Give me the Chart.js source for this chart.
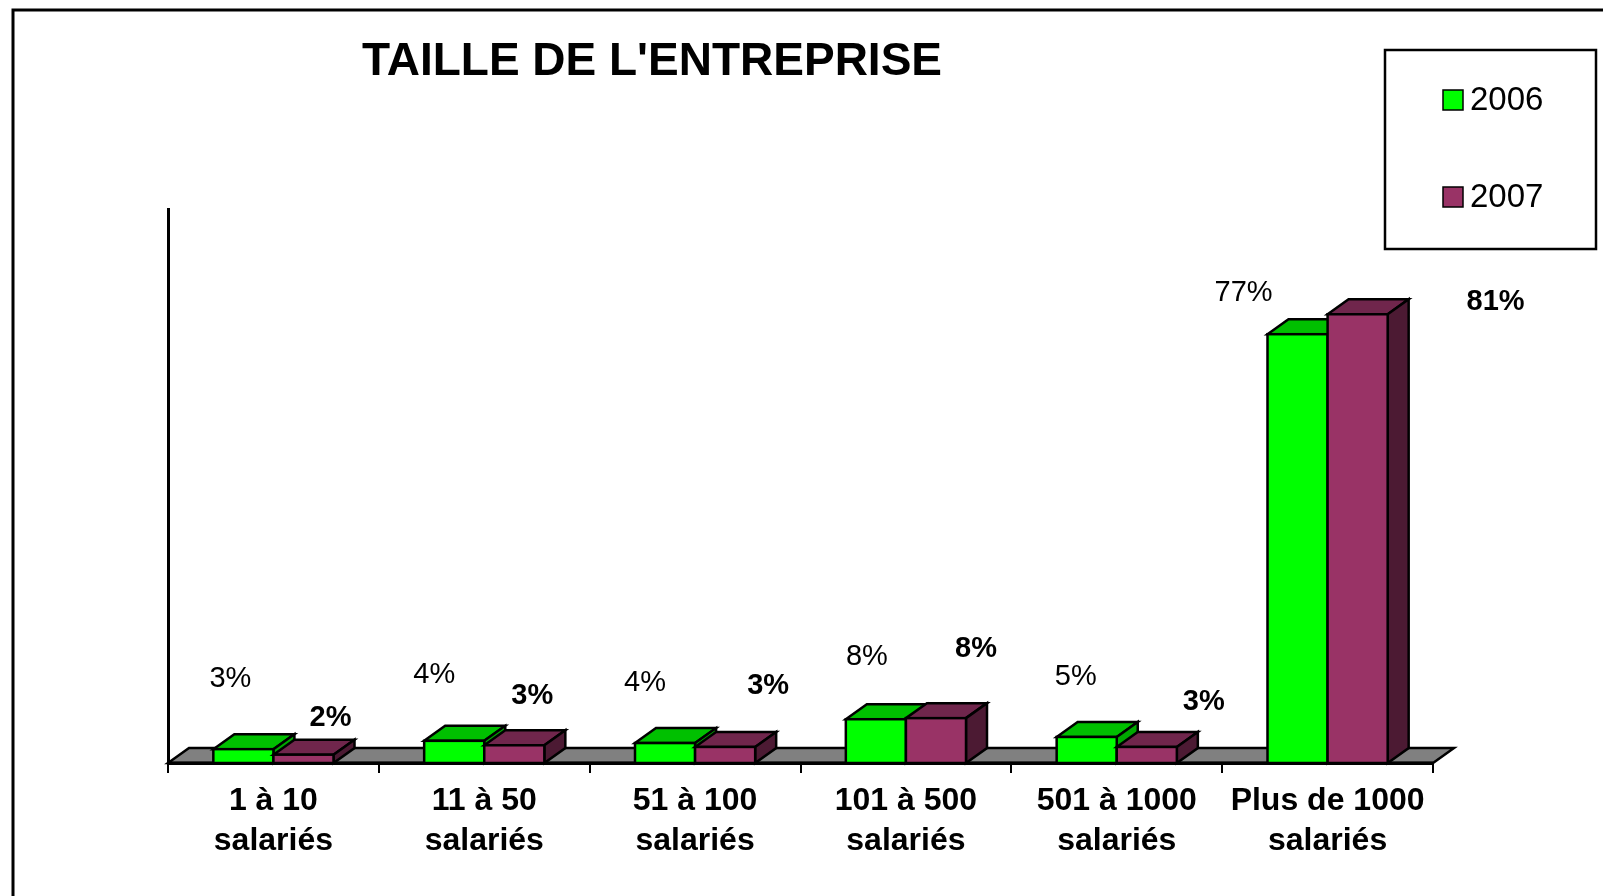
<!DOCTYPE html>
<html lang="fr">
<head>
<meta charset="utf-8">
<title>Taille de l'entreprise</title>
<script src="https://cdn.jsdelivr.net/npm/chart.js@4.4.1/dist/chart.umd.min.js"></script>
<style>
  html, body { margin: 0; padding: 0; background: #fff; }
  canvas { display: block; }
</style>
</head>
<body>
<canvas id="taille-chart" width="1603" height="896"></canvas>
<script>
// categories et valeurs (%)
const categories = [
    ['1 à 10', 'salariés'],
    ['11 à 50', 'salariés'],
    ['51 à 100', 'salariés'],
    ['101 à 500', 'salariés'],
    ['501 à 1000', 'salariés'],
    ['Plus de 1000', 'salariés']
];
const seriesNames = ['2006', '2007'];
const values2006 = [2.5, 4.0, 3.6, 7.9, 4.7, 77.4];
const values2007 = [1.5, 3.2, 2.9, 8.1, 2.9, 81.0];

// decalage des etiquettes (deplacees a la main dans l'original)
const shift2006 = [[-13, -70], [-20, -66], [-20, -60], [-9, -62], [-11, -60], [-54, -41]];
const shift2007 = [[27, -37], [18, -49], [43, -61], [40, -69], [57, -45], [138, -12]];

const faces = [
    { front: '#00FF00', top: '#00C000', side: '#00A800' },
    { front: '#993366', top: '#70264C', side: '#4C1A33' }
];
const depth = { dx: 21, dy: -15 };
const FONT = '"Liberation Sans", Arial, sans-serif';

function drawBox(ctx, left, right, top, bottom, c) {
    const dx = depth.dx, dy = depth.dy;
    ctx.lineWidth = 2.5;
    ctx.strokeStyle = '#000';
    ctx.lineJoin = 'miter';
    // dessus
    ctx.beginPath();
    ctx.moveTo(left, top);
    ctx.lineTo(left + dx, top + dy);
    ctx.lineTo(right + dx, top + dy);
    ctx.lineTo(right, top);
    ctx.closePath();
    ctx.fillStyle = c.top;
    ctx.fill();
    ctx.stroke();
    // cote
    ctx.beginPath();
    ctx.moveTo(right, top);
    ctx.lineTo(right + dx, top + dy);
    ctx.lineTo(right + dx, bottom + dy);
    ctx.lineTo(right, bottom);
    ctx.closePath();
    ctx.fillStyle = c.side;
    ctx.fill();
    ctx.stroke();
    // face
    ctx.fillStyle = c.front;
    ctx.fillRect(left, top, right - left, bottom - top);
    ctx.strokeRect(left, top, right - left, bottom - top);
}

const decor = {
    id: 'decor',
    beforeDraw(chart) {
        const ctx = chart.ctx;
        ctx.save();
        ctx.fillStyle = '#fff';
        ctx.fillRect(0, 0, chart.width, chart.height);
        ctx.strokeStyle = '#000';
        ctx.lineWidth = 3;
        ctx.strokeRect(13, 10, chart.width + 20, chart.height + 20);
        ctx.restore();
    },
    beforeDatasetsDraw(chart) {
        // plancher gris
        const ctx = chart.ctx;
        const y0 = chart.scales.y.getPixelForValue(0);
        const { left, right } = chart.chartArea;
        ctx.save();
        ctx.beginPath();
        ctx.moveTo(left, y0);
        ctx.lineTo(left + depth.dx, y0 + depth.dy);
        ctx.lineTo(right + depth.dx, y0 + depth.dy);
        ctx.lineTo(right, y0);
        ctx.closePath();
        ctx.fillStyle = '#808080';
        ctx.fill();
        ctx.lineWidth = 2.5;
        ctx.strokeStyle = '#000';
        ctx.stroke();
        ctx.beginPath();
        ctx.moveTo(left, y0);
        ctx.lineTo(right, y0);
        ctx.lineWidth = 3;
        ctx.stroke();
        ctx.restore();
    },
    afterDatasetsDraw(chart) {
        const ctx = chart.ctx;
        const metas = [chart.getDatasetMeta(0), chart.getDatasetMeta(1)];
        ctx.save();
        for (let i = 0; i < categories.length; i++) {
            metas.forEach(function (meta, d) {
                const bar = meta.data[i].getProps(['x', 'y', 'base', 'width'], true);
                drawBox(ctx, bar.x - bar.width / 2, bar.x + bar.width / 2, bar.y, bar.base, faces[d]);
            });
        }
        // etiquettes de valeurs
        ctx.fillStyle = '#000';
        ctx.textAlign = 'center';
        ctx.textBaseline = 'middle';
        metas.forEach(function (meta, d) {
            const values = chart.data.datasets[d].data;
            const shift = d === 0 ? shift2006 : shift2007;
            ctx.font = (d === 0 ? '' : 'bold ') + '29px ' + FONT;
            meta.data.forEach(function (el, i) {
                const p = el.getProps(['x', 'y'], true);
                ctx.fillText(Math.round(values[i]) + '%', p.x + shift[i][0], p.y + shift[i][1]);
            });
        });
        ctx.restore();
    },
    afterDraw(chart) {
        const ctx = chart.ctx;
        ctx.save();
        // titre
        ctx.fillStyle = '#000';
        ctx.font = 'bold 46px ' + FONT;
        ctx.textAlign = 'center';
        ctx.textBaseline = 'middle';
        ctx.fillText("TAILLE DE L'ENTREPRISE", 652, 62);
        // legende
        ctx.lineWidth = 2.5;
        ctx.strokeStyle = '#000';
        ctx.strokeRect(1385, 50, 211, 199);
        ctx.font = '33px ' + FONT;
        ctx.textAlign = 'left';
        chart.data.datasets.forEach(function (ds, d) {
            const y = 100 + d * 97;
            ctx.fillStyle = ds.backgroundColor;
            ctx.fillRect(1443, y - 10, 20, 20);
            ctx.lineWidth = 1.5;
            ctx.strokeRect(1443, y - 10, 20, 20);
            ctx.fillStyle = '#000';
            ctx.fillText(ds.label, 1470, y + 1);
        });
        ctx.restore();
    }
};

const tailleChart = new Chart(document.getElementById('taille-chart'), {
    type: 'bar',
    data: {
        labels: categories,
        datasets: [
            { label: seriesNames[0], data: values2006, backgroundColor: faces[0].front, borderWidth: 0 },
            { label: seriesNames[1], data: values2007, backgroundColor: faces[1].front, borderWidth: 0 }
        ]
    },
    options: {
        responsive: false,
        animation: false,
        events: [],
        categoryPercentage: 0.57,
        barPercentage: 1.0,
        layout: { padding: { left: 168, top: 209, right: 170, bottom: 0 } },
        plugins: {
            legend: { display: false },
            title: { display: false },
            tooltip: { enabled: false }
        },
        scales: {
            x: {
                grid: { drawOnChartArea: false, tickLength: 10, color: '#000', lineWidth: 2 },
                border: { color: '#000', width: 3 },
                ticks: {
                    color: '#000',
                    padding: 8,
                    maxRotation: 0,
                    autoSkip: false,
                    font: { family: FONT, size: 32, weight: 'bold', lineHeight: 1.25 }
                },
                afterFit(scale) { scale.height = 133; }
            },
            y: {
                min: 0,
                max: 100,
                grid: { display: false },
                ticks: { display: false },
                border: { color: '#000', width: 3 },
                afterFit(scale) { scale.width = 0; }
            }
        }
    },
    plugins: [decor]
});
</script>
</body>
</html>
